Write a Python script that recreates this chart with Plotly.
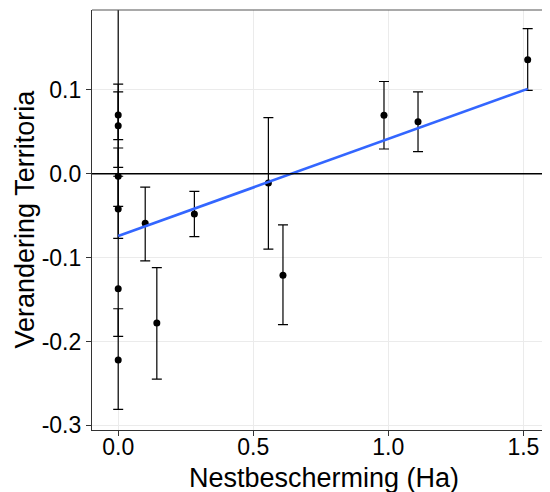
import numpy as np
import plotly.graph_objects as go

# Data
nest_ha = [0.0, 0.0, 0.0, 0.0, 0.0, 0.0, 0.100, 0.143, 0.282, 0.556, 0.610, 0.984, 1.110, 1.516]
verandering = [0.0700, 0.0573, -0.003, -0.042, -0.137, -0.222, -0.059, -0.178, -0.048, -0.011,
               -0.121, 0.0697, 0.062, 0.136]
ci_low = [0.0406, 0.0075, -0.039, -0.077, -0.194, -0.281, -0.104, -0.245, -0.075, -0.090,
          -0.180, 0.0295, 0.0263, 0.0995]
ci_high = [0.0976, 0.107, 0.0307, -0.003, 0.26, -0.161, -0.016, -0.112, -0.021, 0.067,
           -0.061, 0.110, 0.0976, 0.173]

x_ticks = [0.0, 0.5, 1.0, 1.5]
x_ticklabels = ["0.0", "0.5", "1.0", "1.5"]
y_ticks = [-0.3, -0.2, -0.1, 0.0, 0.1]
y_ticklabels = ["-0.3", "-0.2", "-0.1", "0.0", "0.1"]

x_title = "Nestbescherming (Ha)"
y_title = "Verandering Territoria"

x = np.array(nest_ha)
y = np.array(verandering)
err_plus = np.array(ci_high) - y
err_minus = y - np.array(ci_low)

slope, intercept = np.polyfit(x, y, 1)
fit_x = np.array([x.min(), x.max()])
fit_y = intercept + slope * fit_x

FONT = "Liberation Sans, Arial, sans-serif"

fig = go.Figure()
fig.add_trace(go.Scatter(
    x=x, y=y, mode="markers",
    marker=dict(color="black", size=7),
    error_y=dict(type="data", symmetric=False, array=err_plus, arrayminus=err_minus,
                 color="black", thickness=1.2, width=5),
    showlegend=False, cliponaxis=True,
))
fig.add_trace(go.Scatter(
    x=fit_x, y=fit_y, mode="lines",
    line=dict(color="#3366FF", width=2.6),
    showlegend=False,
))

fig.add_shape(type="line", xref="paper", yref="y", x0=0, x1=1, y0=0, y1=0,
              line=dict(color="black", width=1.4), layer="above")
fig.add_shape(type="line", xref="paper", yref="paper", x0=0, x1=1, y0=1, y1=1,
              line=dict(color="#555555", width=1.2), layer="above")

fig.add_annotation(text=x_title, xref="paper", yref="paper", x=0.5066, y=-0.1143,
                   xanchor="center", yanchor="middle", showarrow=False,
                   font=dict(size=27, color="black", family=FONT))
fig.add_annotation(text=y_title, xref="paper", yref="paper", x=-0.1463, y=0.5036,
                   xanchor="center", yanchor="middle", showarrow=False, textangle=-90,
                   font=dict(size=27, color="black", family=FONT))

# page body has an 8px default margin, so the figure is offset by 8px
fig.update_layout(
    width=542, height=484,
    margin=dict(l=84, r=0, t=2, b=62, autoexpand=False),
    plot_bgcolor="white", paper_bgcolor="white",
    font=dict(family=FONT, color="black"),
)
fig.update_xaxes(
    range=[-0.097, 1.5986], automargin=False,
    tickvals=x_ticks, ticktext=x_ticklabels,
    ticks="outside", ticklen=5, tickcolor="#333333", tickwidth=1,
    tickfont=dict(size=23, color="black"), ticklabelstandoff=-9,
    showline=True, linecolor="#333333", linewidth=1.2, mirror=False,
    showgrid=True, gridcolor="#EBEBEB", gridwidth=1,
    zeroline=False,
)
fig.update_yaxes(
    range=[-0.3056, 0.1953], automargin=False,
    tickvals=y_ticks, ticktext=y_ticklabels,
    ticks="outside", ticklen=5, tickcolor="#333333", tickwidth=1,
    tickfont=dict(size=23, color="black"),
    showline=True, linecolor="#333333", linewidth=1.2, mirror=False,
    showgrid=True, gridcolor="#EBEBEB", gridwidth=1,
    zeroline=False,
)

fig.write_html("out.html")
